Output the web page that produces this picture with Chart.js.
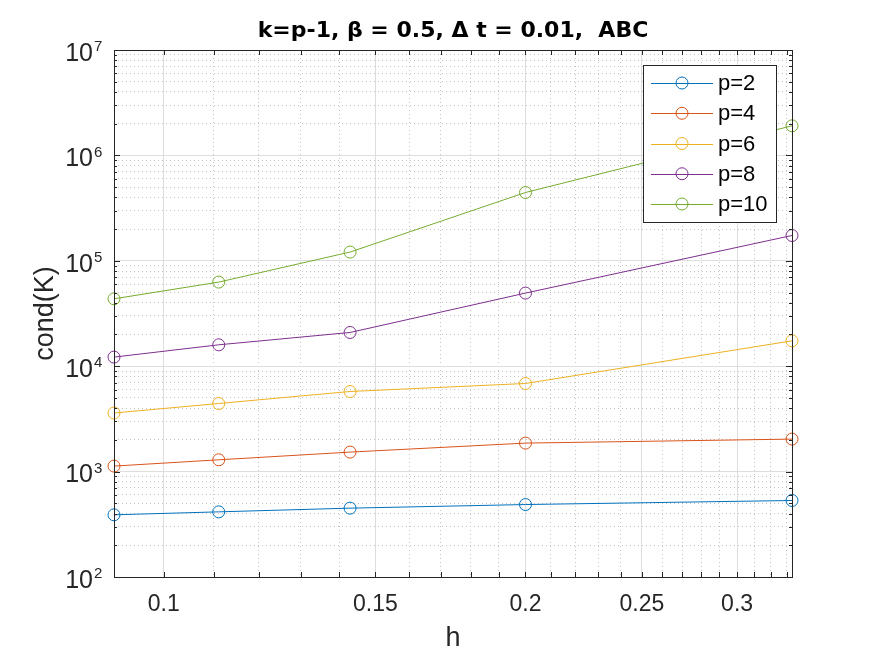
<!DOCTYPE html>
<html>
<head>
<meta charset="utf-8">
<script src="https://cdn.jsdelivr.net/npm/chart.js@4.4.1/dist/chart.umd.min.js"></script>
<style>
    html, body { margin: 0; padding: 0; background: #ffffff; }
    #wrap { width: 875px; height: 656px; }
</style>
</head>
<body>
<div id="wrap"><canvas id="graficoCond"></canvas></div>
<script>
// h values (mesh size) and cond(K) per polynomial degree p
const hValues = [0.0909, 0.1111, 0.1429, 0.2, 0.3333];
const condP2 = [389, 415, 450, 487, 532];
const condP4 = [1128, 1294, 1531, 1864, 2034];
const condP6 = [3597, 4427, 5754, 6853, 17400];
const condP8 = [12200, 15960, 20890, 49400, 173800];
const condP10 = [43580, 62800, 121000, 444700, 1909000];

const seriesLabels = ['p=2', 'p=4', 'p=6', 'p=8', 'p=10'];
const seriesColors = ['#0072bd', '#d95319', '#edb120', '#7e2f8e', '#77ac30'];

const xTickLabels = [0.1, 0.15, 0.2, 0.25, 0.3];
const yTickBase = '10';
const yTickExponents = ['2', '3', '4', '5', '6', '7'];

const gridMajor = '#dedede';
const gridMinor = '#c4c4c4';
const axisColor = '#262626';
const fontFamily = '"Liberation Sans", Arial, sans-serif';

function isXMajor(v) {
    return xTickLabels.some(t => Math.abs(t - v) < 1e-9);
}
function isYMajor(v) {
    const e = Math.log10(v);
    return Math.abs(e - Math.round(e)) < 1e-9;
}

const series = [condP2, condP4, condP6, condP8, condP10];

const datasets = series.map((vals, i) => ({
    label: seriesLabels[i],
    data: vals.map((v, j) => ({ x: hValues[j], y: v })),
    borderColor: seriesColors[i],
    borderWidth: 1,
    pointRadius: 6,
    pointHoverRadius: 6,
    pointBorderWidth: 1,
    pointBorderColor: seriesColors[i],
    pointBackgroundColor: 'rgba(0,0,0,0)',
    tension: 0,
    clip: false
}));

// box round the axes, inward ticks, exponents of the y labels and the boxed legend
const matlabAxes = {
    id: 'matlabAxes',
    afterDatasetsDraw(chart) {
        const { ctx, chartArea: a } = chart;
        const xs = chart.scales.x, ys = chart.scales.y;
        ctx.save();
        ctx.strokeStyle = axisColor;
        ctx.lineWidth = 1;
        ctx.beginPath();
        xs.ticks.forEach(t => {
            const px = Math.round(xs.getPixelForValue(t.value)) + 0.5;
            ctx.moveTo(px, a.bottom); ctx.lineTo(px, a.bottom - 5);
            ctx.moveTo(px, a.top); ctx.lineTo(px, a.top + 5);
        });
        ys.ticks.forEach(t => {
            const py = Math.round(ys.getPixelForValue(t.value)) + 0.5;
            const len = isYMajor(t.value) ? 6 : 3;
            ctx.moveTo(a.left, py); ctx.lineTo(a.left + len, py);
            ctx.moveTo(a.right, py); ctx.lineTo(a.right - len, py);
        });
        ctx.stroke();
        ctx.strokeRect(Math.round(a.left) + 0.5, Math.round(a.top) + 0.5,
            Math.round(a.right - a.left), Math.round(a.bottom - a.top));

        // superscript exponents next to the "10" tick labels
        ctx.fillStyle = axisColor;
        ctx.font = '15px ' + fontFamily;
        ctx.textAlign = 'left';
        ctx.textBaseline = 'middle';
        ys.ticks.forEach(t => {
            if (!isYMajor(t.value)) return;
            const e = Math.round(Math.log10(t.value));
            ctx.fillText(yTickExponents[e - 2], a.left - 20, ys.getPixelForValue(t.value) - 3);
        });
        ctx.restore();
    },
    afterDraw(chart) {
        const { ctx, chartArea: a } = chart;
        const w = 133, h = 157;
        const left = Math.round(a.right - 16 - w), top = Math.round(a.top + 15);
        ctx.save();
        ctx.fillStyle = '#ffffff';
        ctx.fillRect(left, top, w, h);
        ctx.strokeStyle = axisColor;
        ctx.lineWidth = 1;
        ctx.strokeRect(left + 0.5, top + 0.5, w, h);
        ctx.font = '22px ' + fontFamily;
        ctx.textBaseline = 'middle';
        chart.data.datasets.forEach((ds, i) => {
            const y = top + 18 + i * 30.25;
            ctx.strokeStyle = ds.borderColor;
            ctx.beginPath();
            ctx.moveTo(left + 8, Math.round(y) + 0.5);
            ctx.lineTo(left + 70, Math.round(y) + 0.5);
            ctx.stroke();
            ctx.beginPath();
            ctx.arc(left + 39, y, 6, 0, Math.PI * 2);
            ctx.stroke();
            ctx.fillStyle = '#000000';
            ctx.fillText(ds.label, left + 75, y + 1);
        });
        ctx.restore();
    }
};

document.addEventListener('DOMContentLoaded', function () {
    const ctx = document.getElementById('graficoCond');

    new Chart(ctx, {
        type: 'line',
        data: { datasets: datasets },
        plugins: [matlabAxes],
        options: {
            responsive: true,
            maintainAspectRatio: false,
            animation: false,
            events: [],
            layout: { padding: { left: 0, right: 83, top: 0, bottom: 0 } },
            plugins: {
                legend: { display: false },
                tooltip: { enabled: false },
                title: {
                    display: true,
                    fullSize: false,
                    text: 'k=p-1, β = 0.5, Δ t = 0.01,  ABC',
                    color: '#000000',
                    font: { family: '"DejaVu Sans", sans-serif', size: 22, weight: 'bold', lineHeight: 1.2 },
                    padding: { top: 18, bottom: 5.6 }
                }
            },
            scales: {
                x: {
                    type: 'logarithmic',
                    min: hValues[0],
                    max: hValues[hValues.length - 1],
                    afterBuildTicks(scale) {
                        const ticks = [];
                        for (let i = 10; i <= 33; i++) ticks.push({ value: i / 100 });
                        scale.ticks = ticks;
                    },
                    afterFit(scale) { scale.height = 79; },
                    grid: {
                        drawTicks: false,
                        color: c => (c.tick && isXMajor(c.tick.value)) ? gridMajor : gridMinor
                    },
                    border: {
                        display: false,
                        dash: c => (c.tick && !isXMajor(c.tick.value)) ? [1, 3] : []
                    },
                    ticks: {
                        autoSkip: false,
                        maxRotation: 0,
                        padding: 14,
                        color: axisColor,
                        font: { family: fontFamily, size: 23 },
                        callback: v => isXMajor(v) ? String(xTickLabels.find(t => Math.abs(t - v) < 1e-9)) : ''
                    },
                    title: {
                        display: true,
                        text: 'h',
                        color: axisColor,
                        font: { family: fontFamily, size: 27, lineHeight: 1.2 },
                        padding: { top: 0, bottom: 1 }
                    }
                },
                y: {
                    type: 'logarithmic',
                    min: 100,
                    max: 1e7,
                    afterBuildTicks(scale) {
                        const ticks = [];
                        for (let e = 2; e < 7; e++) {
                            for (let s = 1; s <= 9; s++) ticks.push({ value: s * Math.pow(10, e) });
                        }
                        ticks.push({ value: 1e7 });
                        scale.ticks = ticks;
                    },
                    afterFit(scale) { scale.width = 114; },
                    grid: {
                        drawTicks: false,
                        color: c => (c.tick && isYMajor(c.tick.value)) ? gridMajor : gridMinor
                    },
                    border: {
                        display: false,
                        dash: c => (c.tick && !isYMajor(c.tick.value)) ? [1, 3] : []
                    },
                    ticks: {
                        autoSkip: false,
                        padding: 21,
                        labelOffset: 4,
                        color: axisColor,
                        font: { family: fontFamily, size: 25 },
                        callback: v => isYMajor(v) ? yTickBase : ''
                    },
                    title: {
                        display: true,
                        text: 'cond(K)',
                        color: axisColor,
                        font: { family: fontFamily, size: 27, lineHeight: 1.2 },
                        padding: { top: 29, bottom: 0 }
                    }
                }
            }
        }
    });
});
</script>
</body>
</html>
